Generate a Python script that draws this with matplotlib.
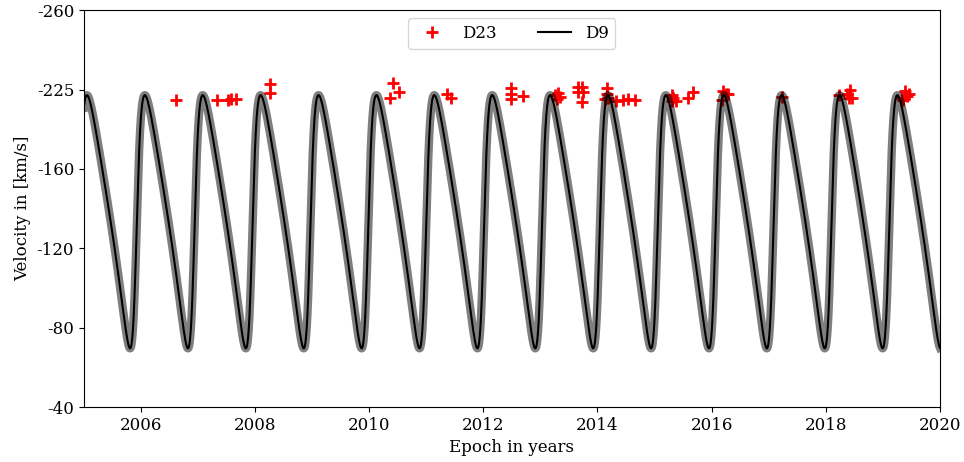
import numpy as np
import matplotlib
matplotlib.use("Agg")
import matplotlib.pyplot as plt

plt.rcParams['font.family'] = 'DejaVu Serif'

# D23 measurements: epoch [yr], velocity [km/s]
d23_epoch = [2006.62, 2007.34, 2007.53, 2007.58, 2007.67, 2008.26, 2008.26,
             2010.41, 2010.52, 2010.36, 2011.36, 2011.44, 2012.49, 2012.49,
             2012.49, 2012.70, 2013.25, 2013.30, 2013.34, 2013.29, 2013.66,
             2013.72, 2013.66, 2013.74, 2013.72, 2014.16, 2014.16, 2014.13,
             2014.19, 2014.33, 2014.45, 2014.54, 2014.65, 2015.30, 2015.33,
             2015.37, 2015.30, 2015.59, 2015.68, 2016.20, 2016.25, 2016.29,
             2016.18, 2017.23, 2018.24, 2018.37, 2018.43, 2018.46, 2018.40,
             2019.39, 2019.42, 2019.36, 2019.45, 2019.33]
d23_vel = [-194.7, -194.7, -194.7, -195.2, -195.2, -202.6, -198.1,
           -203.1, -198.8, -195.5, -197.6, -195.5, -200.6, -198.0,
           -195.0, -196.7, -197.2, -198.2, -196.2, -195.2, -201.4,
           -201.4, -198.8, -198.8, -193.8, -200.6, -198.0, -195.2,
           -195.7, -194.3, -194.7, -195.2, -194.7, -197.2, -195.5,
           -194.3, -194.2, -195.5, -198.8, -199.3, -197.7, -198.0,
           -194.7, -196.0, -197.2, -197.7, -199.7, -195.5, -195.5,
           -199.3, -196.7, -194.7, -197.7, -195.7]

# D9 orbital solution
period = 1.0144      # yr
ecc = 0.40
omega = np.radians(80.0)
t_peri = 2005.917    # yr
K = 63.8             # km/s
gamma = -137.8       # km/s

yticks = [-40, -80, -120, -160, -200, -240]
yticklabels = ['-40', '-80', '-120', '-160', '-225', '-260']
xticks = [2006, 2008, 2010, 2012, 2014, 2016, 2018, 2020]


def radial_velocity(t):
    M = 2 * np.pi * (t - t_peri) / period
    E = M.copy()
    for _ in range(50):
        E = E - (E - ecc * np.sin(E) - M) / (1 - ecc * np.cos(E))
    nu = 2 * np.arctan2(np.sqrt(1 + ecc) * np.sin(E / 2),
                        np.sqrt(1 - ecc) * np.cos(E / 2))
    return gamma + K * (np.cos(nu + omega) + ecc * np.cos(omega))


t = np.linspace(2005, 2020, 4000)
v = radial_velocity(t)

fig = plt.figure(figsize=(9.64, 4.62), dpi=100)
ax = fig.add_axes([0.087, 0.119, 0.888, 0.859])

ax.plot(d23_epoch, d23_vel, '+', color='red', markersize=8, mew=2,
        label='D23', zorder=1)
ax.plot(t, v, '-', color='black', alpha=0.5, lw=6, zorder=2)
ax.plot(t, v, '-', color='black', lw=1.5, label='D9', zorder=3)

ax.set_xlim(2005, 2020)
ax.set_ylim(-40, -240)
ax.set_xticks(xticks)
ax.set_yticks(yticks)
ax.set_yticklabels(yticklabels)
ax.tick_params(labelsize=12)
ax.set_xlabel('Epoch in years', fontsize=12)
ax.set_ylabel('Velocity in [km/s]', fontsize=12)
ax.legend(loc='upper center', ncol=2, fontsize=12, columnspacing=2.5)

fig.savefig('out.png', dpi=100)
